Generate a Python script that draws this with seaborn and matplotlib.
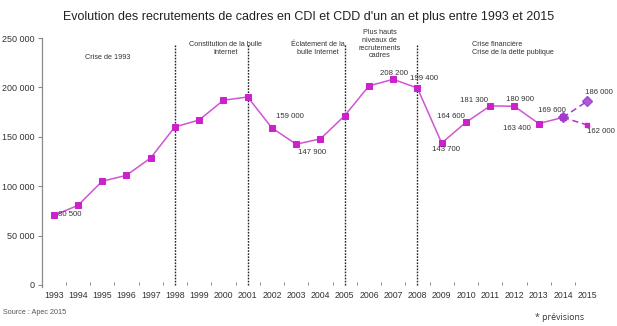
import matplotlib
matplotlib.use("Agg")
import matplotlib.pyplot as plt
import seaborn as sns
import pandas as pd
from matplotlib.ticker import FuncFormatter, MultipleLocator, FixedLocator

# Recrutements de cadres en CDI et CDD d'un an et plus (source : Apec)
years = [1993, 1994, 1995, 1996, 1997, 1998, 1999, 2000, 2001, 2002, 2003,
         2004, 2005, 2006, 2007, 2008, 2009, 2010, 2011, 2012, 2013, 2014]
recrutements = [70500, 80500, 105000, 111000, 128600, 160000, 167000, 187000,
                190300, 159000, 142500, 147900, 171300, 201500, 208200, 199400,
                143700, 164600, 181300, 180900, 163400, 169600]

# Prévisions 2015 (hypothèses haute et basse)
forecast_years = [2014, 2015]
forecast_high = [169600, 186000]
forecast_low = [169600, 162000]

# Ruptures de période et commentaires : (x, y haut du texte, texte, alignement)
period_breaks = [1998, 2001, 2005, 2008]
period_notes = [
    (1995.23, 234000, "Crise de 1993", "center"),
    (2000.1, 247000, "Constitution de la bulle\nInternet", "center"),
    (2003.9, 247000, "Éclatement de la\nbulle Internet", "center"),
    (2006.45, 259000, "Plus hauts\nniveaux de\nrecrutements\ncadres", "center"),
    (2010.25, 247000, "Crise financière\nCrise de la dette publique", "left"),
]

# Étiquettes de valeurs : (valeur, position x, position y)
value_labels = [
    (80500, 1993.2, 71500),
    (159000, 2002.74, 170700),
    (147900, 2003.67, 134100),
    (208200, 2007.05, 214400),
    (199400, 2008.29, 209300),
    (143700, 2009.16, 137200),
    (164600, 2009.4, 170700),
    (181300, 2010.35, 187000),
    (180900, 2012.25, 188000),
    (163400, 2012.09, 158500),
    (169600, 2013.53, 176800),
    (186000, 2015.47, 195100),
    (162000, 2015.58, 155400),
]

MAGENTA = "#cc22cc"
LINE = "#d055d0"
PURPLE = "#9a40d0"
GREY = "#8a8a8a"
TEXT = "#333333"

sns.set_theme(style="white")
plt.rcParams["font.family"] = ["Liberation Sans", "DejaVu Sans"]

fig = plt.figure(figsize=(6.17, 3.26), dpi=100)
ax = fig.add_axes([0.0673, 0.1258, 0.904, 0.7576])

df = pd.DataFrame({"annee": years, "recrutements": recrutements})
sns.lineplot(data=df, x="annee", y="recrutements", ax=ax, color=LINE,
             linewidth=1.1, marker="s", markersize=4.4,
             markerfacecolor=MAGENTA, markeredgecolor=MAGENTA)

df_high = pd.DataFrame({"annee": forecast_years, "recrutements": forecast_high})
df_low = pd.DataFrame({"annee": forecast_years, "recrutements": forecast_low})
sns.lineplot(data=df_low, x="annee", y="recrutements", ax=ax, color=MAGENTA,
             linewidth=1.1, linestyle=(0, (4, 2.5)))
sns.lineplot(data=df_high, x="annee", y="recrutements", ax=ax, color=PURPLE,
             linewidth=1.1, linestyle=(0, (4, 2.5)))
ax.plot(forecast_years[1:], forecast_low[1:], marker="s", markersize=2.8,
        color=MAGENTA, linestyle="none")
ax.plot(forecast_years, forecast_high, marker="D", markersize=4.6,
        color=PURPLE, linestyle="none", alpha=0.85)

for yb in period_breaks:
    ax.plot([yb, yb], [0, 243000], color="#222222", linewidth=1.0,
            linestyle=(0, (1.2, 1.0)), zorder=1, clip_on=False)

for xn, yn, txt, ha in period_notes:
    ax.text(xn, yn, txt, ha=ha, va="top", fontsize=5.2, color=TEXT,
            linespacing=1.15, clip_on=False)

for val, xl, yl in value_labels:
    ax.text(xl, yl, f"{val:,}".replace(",", " "), ha="left" if xl < 1993.5 else "center",
            va="center", fontsize=5.6, color=TEXT, clip_on=False)

ax.set_xlim(1992.5, 2015.5)
ax.set_ylim(0, 250000)
ax.set_xlabel("")
ax.set_ylabel("")
ax.xaxis.set_major_locator(FixedLocator(years + [2015]))
ax.set_xticklabels([str(y) for y in years + [2015]])
ax.xaxis.set_minor_locator(FixedLocator([y + 0.5 for y in years]))
ax.yaxis.set_major_locator(MultipleLocator(50000))
ax.yaxis.set_major_formatter(FuncFormatter(lambda v, p: f"{int(v):,}".replace(",", " ")))

ax.tick_params(axis="x", which="major", length=0, pad=4, labelsize=6.3, colors=TEXT)
ax.tick_params(axis="x", which="minor", length=2.5, direction="in", color=GREY, width=0.7)
ax.tick_params(axis="y", which="major", length=3, direction="out", color=GREY,
               width=0.8, pad=2, labelsize=6.5, labelcolor=TEXT)
ax.tick_params(axis="y", left=True)
ax.tick_params(axis="x", which="minor", bottom=True)

for side in ["top", "right", "bottom"]:
    ax.spines[side].set_visible(False)
ax.spines["left"].set_color(GREY)
ax.spines["left"].set_linewidth(0.9)
ax.spines["left"].set_bounds(-2000, 250000)
ax.grid(False)

fig.text(0.5, 0.948, "Evolution des recrutements de cadres en CDI et CDD d'un an et plus entre 1993 et 2015",
         ha="center", va="center", fontsize=9.0, color="#222222")
fig.text(0.005, 0.04, "Source : Apec 2015", ha="left", va="center", fontsize=5.2, color="#555555")
fig.text(0.867, 0.027, "* prévisions", ha="left", va="center", fontsize=6.3,
         color="#333333", family=["Open Sans", "DejaVu Sans"])

fig.savefig("out.png", dpi=100, facecolor="white")
